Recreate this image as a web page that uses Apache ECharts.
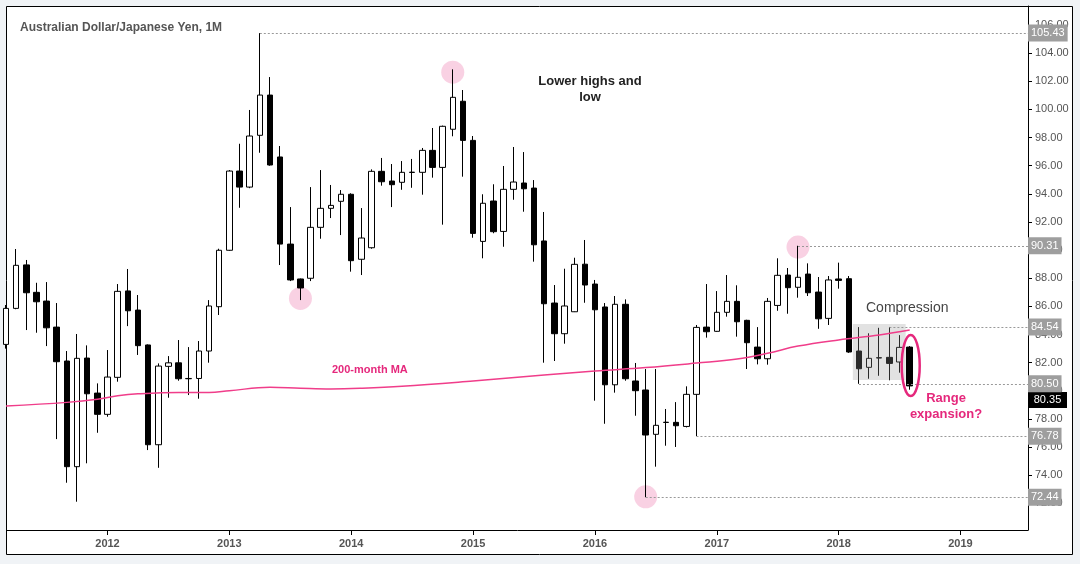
<!DOCTYPE html>
<html><head><meta charset="utf-8">
<script src="https://cdn.jsdelivr.net/npm/echarts@6/dist/echarts.min.js"></script>
<style>html,body{margin:0;padding:0;background:#f0f3f6;}#chart{width:1080px;height:564px;}</style>
</head><body><div id="chart"></div>
<script>
// ---- data ----
const months = ['2011-03','2011-04','2011-05','2011-06','2011-07','2011-08','2011-09','2011-10','2011-11','2011-12',
 '2012-01','2012-02','2012-03','2012-04','2012-05','2012-06','2012-07','2012-08','2012-09','2012-10','2012-11','2012-12',
 '2013-01','2013-02','2013-03','2013-04','2013-05','2013-06','2013-07','2013-08','2013-09','2013-10','2013-11','2013-12',
 '2014-01','2014-02','2014-03','2014-04','2014-05','2014-06','2014-07','2014-08','2014-09','2014-10','2014-11','2014-12',
 '2015-01','2015-02','2015-03','2015-04','2015-05','2015-06','2015-07','2015-08','2015-09','2015-10','2015-11','2015-12',
 '2016-01','2016-02','2016-03','2016-04','2016-05','2016-06','2016-07','2016-08','2016-09','2016-10','2016-11','2016-12',
 '2017-01','2017-02','2017-03','2017-04','2017-05','2017-06','2017-07','2017-08','2017-09','2017-10','2017-11','2017-12',
 '2018-01','2018-02','2018-03','2018-04','2018-05','2018-06','2018-07','2018-08'];
const opens = [83.30,85.86,88.95,87.00,86.38,84.53,82.12,74.61,82.33,79.84,
 78.33,80.96,87.10,85.74,83.26,76.17,81.74,81.99,80.86,80.88,82.83,85.98,
 89.99,95.62,94.48,98.16,101.02,96.62,90.43,87.95,88.00,91.62,92.97,93.47,
 93.97,89.35,90.17,95.60,94.91,94.82,95.52,95.53,97.09,95.88,98.59,100.58,
 97.80,90.62,93.49,91.33,94.32,94.77,94.41,90.65,86.24,84.06,85.62,89.00,
 87.59,85.96,80.43,86.15,80.70,80.06,76.91,77.75,77.76,77.47,79.75,84.53,
 84.23,85.58,86.36,85.01,83.11,82.28,86.07,88.23,87.36,88.30,87.02,85.15,
 87.95,87.97,82.83,81.67,82.33,82.38,82.05,83.11];
const closes = [85.86,88.92,86.97,86.33,84.48,82.07,74.61,82.31,79.79,78.33,
 80.98,87.07,85.69,83.21,76.17,81.76,81.99,80.86,80.88,82.83,86.03,89.99,
 95.62,94.48,98.11,101.02,96.05,90.43,87.88,87.31,91.62,92.97,93.18,93.97,
 89.25,90.86,95.60,94.86,94.65,95.53,95.54,97.09,95.88,98.80,100.86,97.80,
 91.19,93.33,91.31,94.32,94.84,94.36,90.38,86.19,84.06,86.03,88.99,87.52,
 85.76,80.43,86.15,80.86,80.01,76.86,77.55,77.77,77.52,79.75,84.51,84.20,
 85.58,86.36,84.91,83.42,82.28,86.36,88.21,87.33,88.07,86.97,85.12,87.88,
 87.85,82.76,81.57,82.31,82.36,81.95,83.09,80.35];
const lows = [83.00,85.80,84.32,84.13,83.18,76.57,73.47,72.12,74.85,77.02,
 78.16,80.65,84.60,82.55,75.79,74.53,79.51,80.72,79.70,79.44,82.00,85.39,
 89.95,93.01,94.40,96.92,96.00,88.94,87.80,86.45,87.80,90.81,92.28,91.07,
 88.47,88.23,90.10,94.58,93.06,94.29,94.43,93.94,95.15,91.81,98.09,95.22,
 90.88,89.42,91.20,90.24,93.58,92.73,89.18,82.00,82.12,83.35,85.60,86.26,
 79.30,77.66,79.87,80.72,78.23,72.44,74.61,76.10,76.01,77.40,76.78,83.78,
 84.20,85.27,83.85,81.55,81.88,81.86,85.69,85.48,86.62,86.74,84.41,84.68,
 87.26,82.70,80.50,80.86,81.07,80.75,81.29,80.08];
const highs = [86.10,90.08,89.30,87.68,87.73,86.24,82.83,84.04,83.23,80.53,
 82.90,87.59,88.66,86.81,83.30,81.95,82.47,83.61,83.11,83.54,86.45,90.10,
 95.69,97.56,99.96,105.43,102.30,97.40,93.06,87.98,94.48,95.69,94.63,94.27,
 94.04,92.99,95.74,96.55,96.12,96.33,96.48,97.26,98.68,98.85,102.85,101.38,
 98.11,93.97,94.68,95.98,97.33,96.97,94.98,92.71,87.52,88.68,89.46,90.72,
 87.88,86.24,86.74,86.50,81.98,81.55,81.55,78.71,79.20,80.32,84.68,87.59,
 87.09,88.23,87.50,85.05,84.53,86.60,89.42,88.73,90.31,89.06,88.09,88.16,
 89.11,88.16,84.53,84.09,84.48,84.54,83.96,83.18];

// 200-month moving average, read at selected months
const maMonths = ['2011-03','2011-09','2011-12','2012-02','2012-04','2012-08','2012-11','2013-01','2013-05','2013-08',
 '2013-11','2014-02','2014-06','2015-01','2015-08','2016-01','2016-06','2016-11','2017-03','2017-06','2017-09','2018-01','2018-05','2018-08'];
const maValues = [78.92,79.18,79.40,79.65,79.79,79.89,79.89,80.01,80.25,80.18,
 80.13,80.18,80.32,80.70,81.12,81.41,81.65,81.97,82.26,82.67,83.18,83.62,83.97,84.32];

// horizontal levels and the month they start from
const levelValues = [105.43, 90.31, 84.54, 80.50, 76.78, 72.44];
const levelStarts = ['2013-04','2017-09','2018-06','2018-03','2016-11','2016-06'];

// highlighted swing points
const circleMonths = ['2013-08','2014-11','2017-09','2016-06'];
const circlePrices = [86.57, 102.65, 90.22, 72.47];

// compression zone and range-expansion ellipse
const boxMonths = ['2018-03','2018-07'];
const boxPrices = [84.75, 80.77];
const ellipseMonth = '2018-08';
const ellipsePrices = [83.97, 79.63];

const yearTicks = [2012,2013,2014,2015,2016,2017,2018,2019];
const priceTicks = [72,74,76,78,80,82,84,86,88,90,92,94,96,98,100,102,104,106];

// ---- helpers ----
const mi = s => (parseInt(s.slice(0,4),10) - 2011) * 12 + parseInt(s.slice(5,7),10) - 1;
const X_MIN = 2.103, X_MAX = 102.65, Y_MIN = 70.11, Y_MAX = 107.35;
const FONT = 'Liberation Sans, Arial, sans-serif';
const PINK = '#e5287c';

const candles = months.map((m,i) => [mi(m), opens[i], closes[i], lows[i], highs[i]]);
const ma = maMonths.map((m,i) => [mi(m), maValues[i]]);
const circles = circleMonths.map((m,i) => [mi(m), circlePrices[i]]);
const lastClose = closes[closes.length-1];

const chart = echarts.init(document.getElementById('chart'), null, {renderer:'canvas'});
chart.setOption({
  animation: false,
  backgroundColor: '#f0f3f6',
  title: {text: 'Australian Dollar/Japanese Yen, 1M', left: 15, top: 17,
    textStyle: {fontSize: 12, fontWeight: 'bold', color: '#555', fontFamily: FONT}},
  grid: {left: 7, right: 52, top: 6, bottom: 34},
  xAxis: {
    type: 'value', min: X_MIN, max: X_MAX,
    axisLine: {show: true, lineStyle: {color: '#000', width: 1}},
    axisTick: {show: true, length: 5, lineStyle: {color: '#000'}, customValues: yearTicks.map(y => (y-2011)*12)},
    axisLabel: {customValues: yearTicks.map(y => (y-2011)*12), formatter: v => String(2011 + Math.round(v/12)),
      color: '#555', fontSize: 11, fontWeight: 'bold', fontFamily: FONT, margin: 8},
    splitLine: {show: false}
  },
  yAxis: {
    type: 'value', position: 'right', min: Y_MIN, max: Y_MAX, scale: true,
    axisLine: {show: true, lineStyle: {color: '#000', width: 1}},
    axisTick: {show: true, length: 4, lineStyle: {color: '#000'}, customValues: priceTicks},
    axisLabel: {customValues: priceTicks, formatter: v => v.toFixed(2), color: '#555', fontSize: 11, fontFamily: FONT, margin: 7},
    splitLine: {show: false}
  },
  graphic: [
    {type: 'rect', z: -10, shape: {x: 6.5, y: 6.5, width: 1066, height: 548}, style: {fill: '#fff', stroke: '#000', lineWidth: 1}},
    {type: 'text', x: 590, y: 89, z: 10, style: {text: 'Lower highs and\nlow', align: 'center', verticalAlign: 'middle', lineHeight: 16,
      font: 'bold 13px ' + FONT, fill: '#222'}},
    {type: 'text', x: 866, y: 308, z: 10, style: {text: 'Compression', align: 'left', verticalAlign: 'middle', font: '14px ' + FONT, fill: '#444'}},
    {type: 'text', x: 332, y: 370, z: 10, style: {text: '200-month MA', align: 'left', verticalAlign: 'middle', font: 'bold 11px ' + FONT, fill: PINK}},
    {type: 'text', x: 946, y: 406, z: 10, style: {text: 'Range\nexpansion?', align: 'center', verticalAlign: 'middle', lineHeight: 16,
      font: 'bold 13px ' + FONT, fill: PINK}}
  ],
  series: [
    {type: 'scatter', z: 1, silent: true, symbol: 'circle', symbolSize: 23, data: circles,
      itemStyle: {color: '#f7c6dc'}},
    {type: 'candlestick', z: 2, silent: true, barWidth: 6, encode: {x: 0, y: [1,2,3,4]}, data: candles,
      itemStyle: {color: '#fff', color0: '#000', borderColor: '#000', borderColor0: '#000', borderWidth: 1}},
    {type: 'custom', z: 3, silent: true, data: [[mi(boxMonths[0]), mi(boxMonths[1]), boxPrices[0], boxPrices[1]]],
      renderItem: (params, api) => {
        const p1 = api.coord([api.value(0) - 0.6, api.value(2)]);
        const p2 = api.coord([api.value(1) + 0.6, api.value(3)]);
        return {type: 'rect', shape: {x: p1[0], y: p1[1], width: p2[0]-p1[0], height: p2[1]-p1[1]},
          style: {fill: 'rgba(150,150,150,0.28)'}};
      }},
    {type: 'line', z: 4, silent: true, data: ma, smooth: 0.4, symbol: 'none',
      lineStyle: {color: '#f03d8a', width: 1.5}},
    {type: 'custom', z: 5, silent: true, data: [[mi(ellipseMonth), ellipsePrices[0], ellipsePrices[1]]],
      renderItem: (params, api) => {
        const t = api.coord([api.value(0) + 0.1, api.value(1)]);
        const b = api.coord([api.value(0) + 0.1, api.value(2)]);
        return {type: 'path', shape: {pathData: 'M0,50 A50,50 0 1,1 100,50 A50,50 0 1,1 0,50 Z', layout: 'cover',
          x: t[0]-9, y: t[1], width: 18, height: b[1]-t[1]},
          style: {fill: 'none', stroke: PINK, lineWidth: 2.5}};
      }},
    {type: 'line', z: 6, silent: true, data: [],
      markLine: {silent: true, symbol: ['none','none'], animation: false,
        lineStyle: {color: '#999', type: [2,2], width: 1},
        label: {show: true, position: 'end', distance: 0, formatter: p => Number(p.value).toFixed(2),
          color: '#fff', backgroundColor: '#9e9e9e', padding: [2,3,1,3], fontSize: 11, lineHeight: 14, fontFamily: FONT},
        emphasis: {disabled: true},
        data: levelValues.map((v,i) => [{coord: [mi(levelStarts[i]), v], value: v}, {coord: [X_MAX, v]}])},
      markPoint: {silent: true, animation: false,
        data: [{coord: [X_MAX, lastClose], value: lastClose}],
        symbol: 'rect', symbolSize: [39, 16], symbolOffset: [19.5, 14],
        itemStyle: {color: '#000'},
        label: {show: true, position: 'inside', formatter: p => Number(p.value).toFixed(2), color: '#fff', fontSize: 11, fontFamily: FONT}}
    }
  ]
});
</script></body></html>
